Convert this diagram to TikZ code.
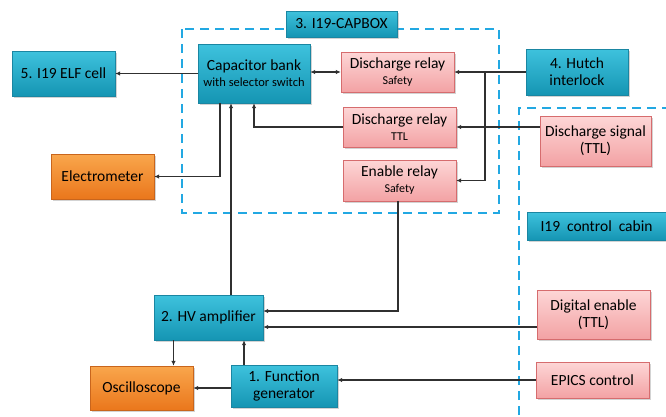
\documentclass[tikz,border=0pt]{standalone}
\usepackage{fontspec}
\setmainfont{Carlito}
\usepackage{xcolor}
\usetikzlibrary{shadows,arrows.meta}
\definecolor{bluetop}{HTML}{3EC2DD}
\definecolor{bluebot}{HTML}{1595B3}
\definecolor{blueedge}{HTML}{1A86A2}
\definecolor{orangetop}{HTML}{F9A64C}
\definecolor{orangebot}{HTML}{EA771C}
\definecolor{orangeedge}{HTML}{C9651C}
\definecolor{pinktop}{HTML}{FDD6D6}
\definecolor{pinkbot}{HTML}{F3A2A4}
\definecolor{pinkedge}{HTML}{D66C6E}
\definecolor{dashblue}{HTML}{22A8E2}
\definecolor{wire}{HTML}{303030}
\newcommand{\sublabel}[1]{\\[-1pt]{\fontsize{12}{13}\selectfont #1}}

\tikzset{
  box/.style={rectangle,inner sep=1pt,align=center,font=\fontsize{15.5}{17}\selectfont,
    drop shadow={shadow xshift=1.5pt,shadow yshift=-1.5pt,opacity=0.35}},
  bluebox/.style={box,draw=blueedge,top color=bluetop,bottom color=bluebot},
  orangebox/.style={box,draw=orangeedge,top color=orangetop,bottom color=orangebot},
  pinkbox/.style={box,draw=pinkedge,top color=pinktop,bottom color=pinkbot},
  wireline/.style={draw=wire,line width=1.2pt,-{Latex[length=5pt,width=4.5pt]}},
  zone/.style={draw=dashblue,line width=2.2pt,dash pattern=on 9pt off 6pt}
}

\begin{document}
\begin{tikzpicture}[x=1pt,y=-1pt]
\useasboundingbox (0,0) rectangle (666,416);

\draw [zone] (182,29) rectangle (499,213);
\draw [zone] (519,430) -- (519,108) -- (680,108);

\node (capbox) at (341.5,24) [bluebox,minimum width=111pt,minimum height=26pt] {3. I19-CAPBOX};
\node (cabin) at (596.5,226) [bluebox,minimum width=139pt,minimum height=28pt] {I19\ \ control\ \ cabin};

\node (cap) at (254,73.5) [bluebox,minimum width=112pt,minimum height=59pt] {Capacitor bank\sublabel{\fontsize{12.5}{13}\selectfont with selector switch}};
\node (elf) at (63.5,73.5) [bluebox,minimum width=103pt,minimum height=45pt] {5. I19 ELF cell};
\node (electrometer) at (102.5,176.5) [orangebox,minimum width=103pt,minimum height=45pt] {Electrometer};

\node (dsafe) at (397.5,72) [pinkbox,minimum width=113pt,minimum height=40pt] {Discharge relay\sublabel{Safety}};
\node (dttl) at (399.5,127) [pinkbox,minimum width=113pt,minimum height=40pt] {Discharge relay\sublabel{TTL}};
\node (enable) at (399.5,180.5) [pinkbox,minimum width=113pt,minimum height=41pt] {Enable relay\sublabel{Safety}};

\node (hutch) at (577,72) [bluebox,minimum width=102pt,minimum height=46pt] {4. Hutch\\interlock};
\node (dsig) at (595.5,141) [pinkbox,minimum width=111pt,minimum height=50pt] {Discharge signal\\(TTL)};
\node (digital) at (593.5,314.5) [pinkbox,minimum width=113pt,minimum height=49pt] {Digital enable\\(TTL)};
\node (epics) at (592.5,380) [pinkbox,minimum width=113pt,minimum height=36pt] {EPICS control};

\node (hv) at (208.5,317.5) [bluebox,minimum width=109pt,minimum height=45pt] {2. HV amplifier};
\node (osc) at (141.5,388) [orangebox,minimum width=103pt,minimum height=44pt] {Oscilloscope};
\node (fgen) at (284,386) [bluebox,minimum width=106pt,minimum height=42pt] {1. Function\\generator};

\coordinate (split) at (485,72);

\draw [wireline] (cap.west) -- (cap.west -| elf.east);
\draw [wireline,{Latex[length=5pt,width=4.5pt]}-{Latex[length=5pt,width=4.5pt]}] (dsafe.west -| cap.east) -- (dsafe.west);
\draw [wireline] (hutch.west) -- (dsafe.east);
\draw [wireline] (split) |- (enable.east);
\draw [wireline] (dsig.west |- dttl.east) -- (dttl.east);
\draw [wireline] (dttl.west) -| (cap.south);
\draw [wireline] ([xshift=-34pt]cap.south) |- (electrometer.east);
\draw [wireline] ([xshift=-23pt]cap.south |- hv.north) -- ([xshift=-23pt]cap.south);

\draw [wireline] ([xshift=-1.5pt]enable.south) |- ([yshift=6.5pt]hv.east);
\draw [wireline] ([yshift=-9.5pt]hv.east -| digital.west) -- ([yshift=-9.5pt]hv.east);
\draw [wireline] ([xshift=-35pt]hv.south) -- ([xshift=-35pt]hv.south |- osc.north);
\draw [wireline] ([xshift=-40pt]fgen.north) -- ([xshift=-40pt]fgen.north |- hv.south);
\draw [wireline] (fgen.west |- osc.east) -- (osc.east);
\draw [wireline] (epics.west) -- (epics.west -| fgen.east);
\end{tikzpicture}
\end{document}
